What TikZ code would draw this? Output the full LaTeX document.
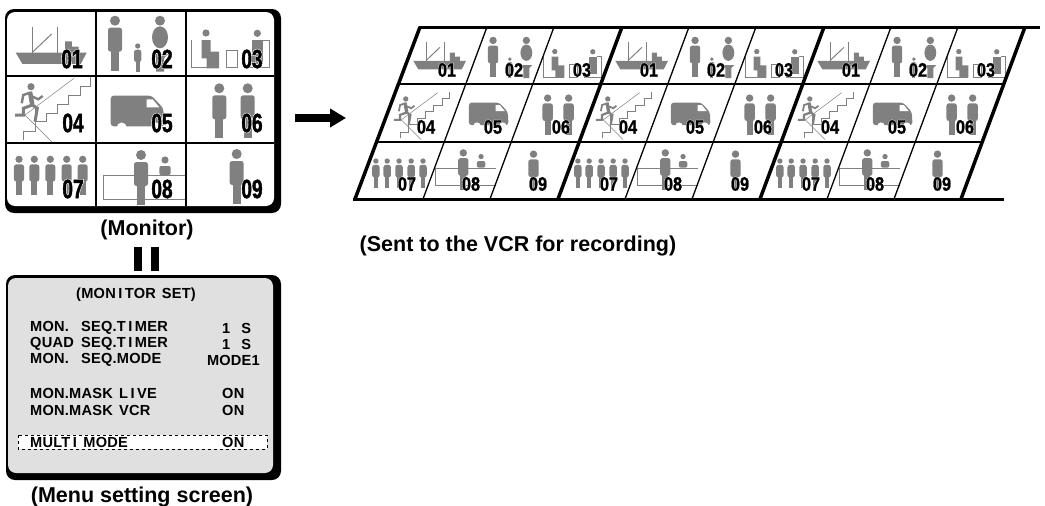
\documentclass[tikz,border=0pt]{standalone}
\usepackage{fontspec}
\usetikzlibrary{arrows.meta}
\setmainfont{Liberation Sans}
\newfontfamily\menufont[LetterSpace=1.5]{Liberation Sans}
\newfontfamily\numfontbig[FakeStretch=0.72,BoldFeatures={FakeBold=1.5}]{Liberation Sans}
\newfontfamily\numfontsmall[FakeStretch=0.84,BoldFeatures={FakeBold=1}]{Liberation Sans}
\newfontfamily\halofontbig[FakeStretch=0.72,BoldFeatures={FakeBold=6}]{Liberation Sans}
\newfontfamily\halofontsmall[FakeStretch=0.84,BoldFeatures={FakeBold=5}]{Liberation Sans}
\definecolor{icongray}{HTML}{808080}
\definecolor{menugray}{HTML}{E0E0E0}
\newcommand{\wi}{\hspace{2.5pt}I\hspace{2.5pt}}
\tikzset{
  numbig/.style={inner sep=0pt,font=\fontsize{26.5}{26.5}\selectfont\numfontbig\bfseries},
  numsmall/.style={inner sep=0pt,font=\fontsize{19.5}{19.5}\selectfont\numfontsmall\bfseries},
  halobig/.style={inner sep=0pt,white,font=\fontsize{26.5}{26.5}\selectfont\halofontbig\bfseries},
  halosmall/.style={inner sep=0pt,white,font=\fontsize{19.5}{19.5}\selectfont\halofontsmall\bfseries},
  caption/.style={inner sep=0pt,font=\fontsize{21.5}{21.5}\selectfont\bfseries},
  menutext/.style={inner sep=0pt,anchor=west,font=\fontsize{14.6}{14.6}\selectfont\menufont\bfseries},
  iconline/.style={icongray,line width=1pt},
  gridline/.style={black,line width=1.8pt},
  slantthin/.style={black,line width=1.3pt},
  slantthick/.style={black,line width=3.5pt},
}

\begin{document}
\begin{tikzpicture}[x=1pt,y=-1pt]

\newcommand{\monnum}[3]{% x, y, numero
\node[halobig] (monhalo#3) at (#1,#2) {#3};
\node[numbig] (mon#3) at (#1,#2) {#3};
}
\newcommand{\recnum}[4]{% groupe, x, y, numero
\node[halosmall] (rechalo#1#4) at (#2,#3) {#4};
\node[numsmall] (rec#1#4) at (#2,#3) {#4};
}
\newcommand{\iperson}[3]{% x head, y head, taille
\fill[icongray] (#1,#2) circle (5*#3);
\fill[icongray,rounded corners=2.5pt] (#1-7*#3,#2+7*#3) rectangle (#1+7*#3,#2+31*#3);
\fill[icongray] (#1-4*#3,#2+10*#3) rectangle (#1+4*#3,#2+50*#3);
}
\newcommand{\icship}[3]{% x cell, y cell, scale
\begin{scope}[shift={(#1,#2)},scale=#3]
\fill[icongray] (8.6,40.5) -- (79.7,40.5) -- (73.9,51.8) -- (15.3,51.8) -- cycle;
\fill[icongray] (58,40.5) -- (58,29.3) -- (64.8,29.3) -- (64.8,34.7) -- (71.5,34.7) -- (71.5,40.5) -- cycle;
\draw[iconline] (25.7,15.3) -- (25.7,40.5);
\draw[iconline] (50,15.3) -- (50,40.5);
\draw[iconline] (25.7,40) -- (44.6,22);
\end{scope}
}
\newcommand{\icfamily}[3]{%
\begin{scope}[shift={(#1,#2)},scale=#3]
\iperson{19}{8.7}{1}
\iperson{41.7}{34}{0.52}
\fill[icongray] (64,8.7) circle (5);
\fill[icongray] (64,25.3) ellipse (8 and 11);
\fill[icongray] (56,42) -- (72,42) -- (68,46) -- (68,59.7) -- (60,59.7) -- (60,46) -- cycle;
\end{scope}
}
\newcommand{\icseat}[3]{%
\begin{scope}[shift={(#1,#2)},scale=#3]
\draw[iconline] (5,28) -- (5,55.7) -- (33,55.7);
\fill[icongray] (20,21) circle (3.6);
\fill[icongray] (15.7,28) -- (24.7,28) -- (24.7,39.7) -- (33,39.7) -- (33,56.3) -- (20.7,56.3) -- (20.7,46.3) -- (15.7,46.3) -- cycle;
\draw[iconline] (40,38) rectangle (51.3,55.7);
\fill[icongray] (71.3,21.3) circle (3.6);
\fill[icongray] (66.3,28) rectangle (77.3,52);
\draw[iconline] (77.3,28) -- (83.3,28) -- (83.3,55.7) -- (60,55.7);
\end{scope}
}
\newcommand{\icstairs}[3]{%
\begin{scope}[shift={(#1,#2)},scale=#3]
\draw[iconline] (16.3,64) -- (16.3,55.7) -- (28,55.7) -- (28,45.7) -- (39.7,45.7) -- (39.7,37.3) -- (50.3,37.3) -- (50.3,28) -- (61.3,28) -- (61.3,19) -- (73,19) -- (73,10.7) -- (83.7,10.7) -- (83.7,1.3);
\draw[icongray,line width=0.5pt] (18,39) -- (67,2.3);
\draw[icongray,line width=0.5pt] (18,39) -- (44.7,65.7);
\draw[icongray,line width=0.5pt] (28,31) -- (28,45.7);
\fill[icongray] (24,10.7) circle (3.6);
\draw[icongray,line width=4.5pt*#3] (23,15.7) -- (25.3,29);
\draw[icongray,line width=2.4pt*#3] (23,16.7) -- (16.3,19) -- (14.7,27.3);
\draw[icongray,line width=2.4pt*#3] (25.7,20.7) -- (31.3,23.3) -- (35.7,20);
\draw[icongray,line width=3pt*#3] (25.3,29) -- (30.3,32.3) -- (28,45.7);
\draw[icongray,line width=3pt*#3] (25.3,29) -- (16.3,32.3) -- (16.3,39) -- (8,39);
\end{scope}
}
\newcommand{\icvan}[3]{%
\begin{scope}[shift={(#1,#2)},scale=#3]
\fill[icongray,rounded corners=3pt] (14.7,50.3) -- (14.7,19.7) -- (55.7,19.7) -- (67.3,32.3) -- (68.3,50.3) -- cycle;
\fill[white] (25.7,51.5) circle (5);
\fill[white] (60.7,51.5) circle (5);
\fill[white] (50.7,23.3) -- (56.7,23.3) -- (63.3,31.3) -- (50.7,31.3) -- cycle;
\end{scope}
}
\newcommand{\icpair}[3]{%
\begin{scope}[shift={(#1,#2)},scale=#3]
\iperson{33.3}{12.3}{1}
\iperson{61.7}{12.3}{1}
\end{scope}
}
\newcommand{\icqueue}[3]{%
\begin{scope}[shift={(#1,#2)},scale=#3]
\foreach \px in {12,27.3,43.3,59.7,75.7} {
  \iperson{\px}{16.3}{0.72}
}
\end{scope}
}
\newcommand{\icdesk}[3]{%
\begin{scope}[shift={(#1,#2)},scale=#3]
\draw[iconline] (89,32.7) -- (7.3,32.7) -- (7.3,56.3) -- (89,56.3);
\iperson{45}{12}{1}
\fill[icongray] (69,17) circle (3.6);
\fill[icongray,rounded corners=2pt] (63.3,32) -- (63.3,23) -- (74.7,23) -- (74.7,32) -- cycle;
\end{scope}
}
\newcommand{\icsingle}[3]{%
\begin{scope}[shift={(#1,#2)},scale=#3]
\iperson{50.7}{11}{1}
\end{scope}
}

\useasboundingbox (0,0) rectangle (1045,506);

%monitor
\fill[black,rounded corners=9pt] (5,9) rectangle (281,213);
\fill[white,rounded corners=8pt] (7,12) rectangle (274,206);
\icship{7}{12}{1}
\icfamily{96}{12}{1}
\icseat{186}{12}{1}
\icstairs{7}{76}{1}
\icvan{96}{76}{1}
\icpair{186}{76}{1}
\icqueue{7}{143}{1}
\icdesk{96}{143}{1}
\icsingle{186}{143}{1}
\monnum{72}{59}{01}
\monnum{162}{59}{02}
\monnum{252}{59}{03}
\monnum{73}{123}{04}
\monnum{162}{123}{05}
\monnum{252}{123}{06}
\monnum{73}{189}{07}
\monnum{162}{189}{08}
\monnum{252}{189}{09}
\draw[gridline] (96,12) -- (96,206);
\draw[gridline] (186,12) -- (186,206);
\draw[gridline] (7,76) -- (274,76);
\draw[gridline] (7,143) -- (274,143);
\node[caption] (moncaption) at (147,230) {(Monitor)};

%bars
\fill[black] (134,247) rectangle (142,271);
\fill[black] (151,247) rectangle (159,271);

%menu screen
\fill[black,rounded corners=9pt] (6,275) rectangle (281,480);
\fill[menugray,rounded corners=8pt] (8,278) rectangle (273,473);
\node[menutext,anchor=center] (menutitle) at (136,295) {(MON\wi TOR\hspace{6pt}SET)};
\node[menutext] (seqtimer) at (30,328) {\makebox[51pt][l]{MON.}SEQ.T\wi MER};
\node[menutext] (quadtimer) at (30,344) {\makebox[51pt][l]{QUAD}SEQ.T\wi MER};
\node[menutext] (seqmode) at (30,360) {\makebox[51pt][l]{MON.}SEQ.MODE};
\node[menutext] (masklive) at (30,393) {\makebox[89pt][l]{MON.MASK}L\wi VE};
\node[menutext] (maskvcr) at (30,410) {\makebox[89pt][l]{MON.MASK}VCR};
\node[menutext] (seqtimerval) at (222,328) {1\hspace{11pt}S};
\node[menutext] (quadtimerval) at (222,344) {1\hspace{11pt}S};
\node[menutext,anchor=east] (seqmodeval) at (260,360) {MODE1};
\node[menutext] (maskliveval) at (222,393) {ON};
\node[menutext] (maskvcrval) at (222,410) {ON};
\draw[black,fill=white,dashed,line width=0.6pt] (18,435) rectangle (267,449);
\node[menutext] (multimode) at (30,442) {MULT\wi\hspace{4pt}MODE};
\node[menutext] (multimodeval) at (222,442) {ON};
\node[caption] (menucaption) at (142,497) {(Menu setting screen)};

%arrow
\coordinate (arrowtail) at (295,118);
\coordinate (arrowtip) at (346,118);
\draw[-{Triangle[length=16pt,width=18pt]},line width=8pt] (arrowtail) -- (arrowtip);

%recorded frames
\foreach \k/\dx in {1/0,2/202,3/404} {
\begin{scope}[xshift=\dx]
\icship{407}{31}{0.74}
\icfamily{479}{34}{0.74}
\icseat{540}{36}{0.74}
\icstairs{388}{91}{0.74}
\icvan{458}{88}{0.74}
\icpair{523}{89}{0.74}
\icqueue{367}{149}{0.74}
\icdesk{430}{144}{0.74}
\icsingle{496}{146}{0.74}
\recnum{\k}{447}{70}{01}
\recnum{\k}{514}{70}{02}
\recnum{\k}{582}{70}{03}
\recnum{\k}{426}{127}{04}
\recnum{\k}{493}{127}{05}
\recnum{\k}{561}{127}{06}
\recnum{\k}{407}{184}{07}
\recnum{\k}{471}{184}{08}
\recnum{\k}{538}{184}{09}
\draw[slantthin] (487,27) -- (423,199);
\draw[slantthin] (554,27) -- (490,199);
\end{scope}
}
\draw[gridline,line width=1.3pt] (398.5,84) -- (1003.5,84);
\draw[gridline,line width=1.3pt] (376.5,142) -- (981.5,142);
\draw[slantthick] (420,27) -- (355,199);
\draw[slantthick] (622,27) -- (558,199);
\draw[slantthick] (824,27) -- (760,199);
\draw[slantthick] (1025,27) -- (961,199);
\draw[black,line width=3pt] (419,27) -- (1040,27);
\draw[black,line width=3pt] (353,199) -- (1004,199);
\node[caption] (reccaption) at (518,246) {(Sent to the VCR for recording)};

\end{tikzpicture}
\end{document}
